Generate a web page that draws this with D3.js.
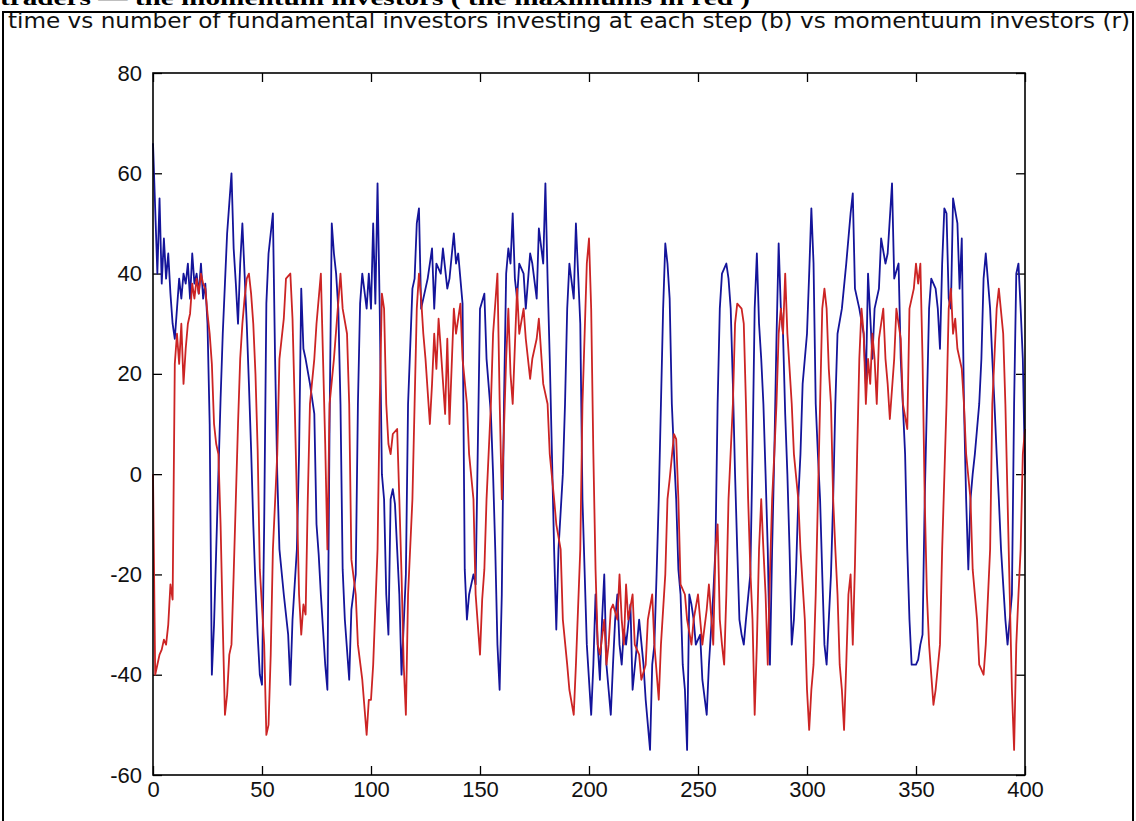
<!DOCTYPE html>
<html>
<head>
<meta charset="utf-8">
<script src="https://cdn.jsdelivr.net/npm/d3@7"></script>
<style>
  body { margin: 0; background: #fff; }
  svg { display: block; }
  .tick text { font-family: "Liberation Sans Narrow", "Liberation Sans", Arial, sans-serif; font-size: 22px; fill: #111; }
</style>
</head>
<body>
<svg id="chart" width="1136" height="821"></svg>
<script>
// Axis ticks
const timeTicks = [0, 50, 100, 150, 200, 250, 300, 350, 400];
const countTicks = [-60, -40, -20, 0, 20, 40, 60, 80];

// Fundamental investors investing at each step (blue): [step, count]
const fundamental = [
  [0,66],[1,53],[2,40],[3,55],[4,38],[5,47],[6,39],[7,44],[8,36],[9,30],
  [10,27],[11,33],[12,39],[13,35],[14,40],[15,38],[16,42],[17,35],[18,44],[19,38],
  [20,40],[21,36],[22,42],[23,35],[24,38],[25,30],[26,10],[27,-40],[28,-30],[29,-15],
  [30,0],[31,15],[32,28],[33,38],[34,48],[35,54],[36,60],[37,45],[38,38],[39,30],
  [40,42],[41,50],[42,40],[43,30],[44,18],[45,5],[46,-10],[47,-22],[48,-32],[49,-40],
  [50,-42],[51,-10],[52,34],[53,44],[55,52],[56,23],[57,0],[58,-15],[60,-24],[62,-32],
  [63,-42],[64,-29],[66,-15],[67,4],[68,37],[69,25],[70,23],[72,18],[74,12],[75,-10],
  [76,-16],[77,-24],[79,-38],[80,-43],[81,10],[82,50],[83,44],[84,40],[85,33],[86,14],
  [87,-19],[88,-29],[90,-41],[91,-27],[93,-20],[94,14],[95,34],[96,40],[98,33],[99,40],
  [100,33],[101,50],[102,34],[103,58],[104,33],[105,0],[106,-5],[107,-24],[108,-32],[109,-5],
  [110,-3],[111,-6],[112,-15],[113,-24],[114,-40],[116,-20],[117,14],[119,37],[120,39],[121,50],
  [122,53],[123,33],[125,37],[126,39],[128,45],[129,33],[130,42],[132,40],[133,45],[135,37],
  [136,39],[138,48],[139,42],[140,44],[142,34],[143,-19],[144,-29],[145,-24],[147,-20],[148,-22],
  [150,33],[152,36],[153,23],[155,12],[156,0],[157,-15],[158,-34],[159,-43],[160,-24],[161,14],
  [162,40],[163,45],[164,42],[165,52],[166,39],[167,35],[168,42],[170,40],[171,33],[173,44],
  [174,42],[176,35],[177,49],[179,42],[180,58],[181,39],[182,23],[183,4],[184,-15],[185,-31],
  [186,-15],[188,0],[189,14],[190,33],[191,42],[193,35],[194,50],[196,30],[197,-5],[199,-34],
  [201,-48],[202,-38],[203,-24],[204,-34],[205,-41],[206,-29],[207,-20],[208,-38],[209,-43],[210,-48],
  [211,-38],[212,-29],[213,-24],[214,-34],[215,-38],[216,-31],[217,-34],[219,-26],[220,-43],[222,-34],
  [223,-29],[225,-38],[226,-45],[228,-55],[229,-38],[230,-34],[231,-20],[232,-5],[233,14],[234,33],
  [235,46],[236,42],[237,35],[238,14],[239,4],[240,-5],[241,-19],[242,-24],[243,-38],[244,-43],
  [245,-55],[246,-24],[247,-26],[248,-29],[249,-34],[251,-32],[252,-41],[254,-48],[255,-38],[257,-24],
  [258,-15],[259,14],[260,33],[261,40],[263,42],[264,39],[265,33],[266,18],[267,0],[268,-15],
  [269,-29],[270,-32],[271,-34],[272,-29],[274,-20],[275,4],[276,33],[277,44],[278,30],[279,23],
  [280,14],[281,0],[282,-15],[283,-38],[284,-15],[285,4],[286,27],[287,46],[288,33],[289,28],
  [290,12],[291,0],[292,-15],[293,-34],[294,-29],[295,-19],[296,-5],[297,4],[298,18],[299,23],
  [300,28],[301,40],[302,53],[303,42],[304,14],[305,4],[306,-5],[307,-20],[308,-34],[309,-38],
  [310,-29],[311,-20],[312,-5],[313,14],[314,28],[316,33],[318,42],[320,52],[321,56],[322,37],
  [324,33],[326,28],[327,18],[328,40],[330,23],[331,33],[333,37],[334,47],[336,42],[337,44],
  [339,58],[340,39],[342,42],[343,23],[345,4],[346,-15],[347,-29],[348,-38],[350,-38],[351,-37],
  [352,-34],[353,-32],[354,-5],[355,14],[356,33],[357,39],[359,37],[360,33],[361,25],[362,42],
  [363,53],[364,52],[365,35],[366,33],[367,55],[369,50],[370,37],[371,47],[372,14],[373,-5],
  [374,-19],[375,-5],[376,0],[377,4],[378,9],[379,14],[380,23],[381,39],[382,44],[384,33],
  [385,23],[386,14],[387,4],[388,-5],[389,-15],[391,-29],[392,-34],[393,-29],[394,-24],[395,14],
  [396,40],[397,42],[398,33],[399,23],[400,0]
];

// Momentum investors (red): [step, count]
const momentum = [
  [0,0],[1,-40],[2,-38],[3,-36],[4,-35],[5,-33],[6,-34],[7,-30],[8,-22],[9,-25],
  [10,22],[11,28],[12,22],[13,30],[14,18],[15,25],[16,30],[17,32],[18,38],[19,35],
  [20,39],[21,36],[22,40],[23,38],[24,37],[25,32],[26,28],[27,22],[28,10],[29,6],
  [30,4],[31,-10],[32,-30],[33,-48],[34,-44],[35,-36],[36,-34],[37,-20],[38,-5],[39,10],
  [40,23],[41,30],[42,35],[43,39],[44,40],[45,36],[46,30],[47,20],[48,5],[49,-19],
  [51,-34],[52,-52],[53,-50],[54,-36],[55,-15],[57,4],[58,23],[60,31],[61,39],[63,40],
  [64,31],[65,14],[66,-5],[67,-24],[68,-32],[69,-26],[70,-28],[71,-5],[72,14],[74,23],
  [75,30],[77,40],[78,23],[79,6],[80,-15],[81,14],[83,23],[86,40],[87,33],[89,28],
  [90,14],[91,-17],[93,-24],[94,-34],[96,-41],[98,-52],[99,-45],[100,-45],[101,-38],[103,-15],
  [104,14],[105,36],[106,33],[107,14],[108,6],[109,4],[110,8],[112,9],[113,-5],[114,-20],
  [115,-38],[116,-48],[117,-24],[119,-5],[120,14],[121,33],[122,40],[123,35],[124,28],[125,23],
  [127,10],[128,18],[129,28],[130,21],[131,31],[132,25],[134,12],[135,27],[136,10],[138,33],
  [139,28],[141,34],[142,23],[144,14],[145,4],[147,-5],[148,-24],[150,-36],[151,-25],[152,-19],
  [153,-5],[155,14],[156,28],[158,40],[159,15],[160,-5],[161,9],[162,23],[163,33],[164,20],
  [165,14],[167,37],[168,28],[170,33],[171,27],[173,19],[174,23],[176,27],[177,31],[179,18],
  [181,14],[182,4],[184,-5],[185,-10],[187,-15],[188,-29],[190,-38],[191,-43],[193,-48],[194,-38],
  [196,-15],[197,14],[199,42],[200,47],[201,33],[202,4],[203,-19],[204,-34],[205,-36],[207,-29],
  [208,-38],[209,-34],[210,-27],[211,-26],[213,-29],[214,-20],[215,-29],[216,-34],[217,-22],[218,-29],
  [220,-24],[221,-34],[223,-36],[224,-41],[226,-38],[227,-29],[229,-24],[230,-34],[232,-45],[233,-34],
  [235,-20],[236,-5],[237,-1],[239,8],[240,7],[241,-5],[242,-22],[244,-24],[245,-29],[247,-34],
  [248,-29],[250,-24],[251,-29],[252,-34],[254,-27],[255,-22],[257,-34],[258,-15],[259,-10],[260,-29],
  [261,-34],[262,-38],[263,-24],[264,-5],[266,14],[267,30],[268,34],[270,33],[271,30],[272,14],
  [273,-5],[274,-19],[275,-29],[276,-48],[277,-34],[278,-15],[279,-5],[280,-15],[281,-24],[282,-38],
  [283,-20],[284,-5],[285,4],[286,14],[287,28],[288,33],[289,28],[290,40],[291,28],[293,14],
  [294,4],[296,-5],[297,-15],[299,-29],[300,-43],[301,-51],[302,-43],[303,-38],[304,-24],[305,-5],
  [306,14],[307,33],[308,37],[309,33],[310,21],[311,14],[312,-5],[313,-15],[314,-24],[315,-38],
  [316,-43],[317,-51],[318,-38],[319,-24],[320,-20],[321,-34],[322,-18],[323,4],[324,23],[325,33],
  [326,28],[327,14],[328,23],[329,18],[330,28],[331,23],[332,14],[333,27],[335,33],[336,23],
  [337,18],[338,11],[340,23],[341,33],[343,27],[344,14],[346,9],[347,33],[349,37],[350,42],
  [351,38],[352,42],[353,23],[354,-5],[355,-24],[356,-34],[357,-40],[358,-46],[359,-43],[361,-34],
  [362,-15],[364,14],[365,33],[366,37],[367,28],[368,31],[369,25],[371,21],[372,14],[373,4],
  [375,-5],[376,-19],[378,-29],[379,-38],[381,-40],[382,-34],[384,-15],[385,14],[387,33],[388,37],
  [390,28],[391,14],[392,-5],[393,-24],[394,-43],[395,-55],[396,-34],[397,-24],[398,-15],[399,4],
  [400,9]
];

const svg = d3.select("#chart");
const plot = { left: 153, right: 1025, top: 73, bottom: 775 };

const x = d3.scaleLinear().domain([0, 400]).range([plot.left, plot.right]);
const y = d3.scaleLinear().domain([-60, 80]).range([plot.bottom, plot.top]);

// Caption line of the surrounding document, cut by the page edge
svg.append("text")
  .attr("x", 0).attr("y", 5)
  .attr("font-family", "'Liberation Serif', 'Times New Roman', serif")
  .attr("font-weight", "bold")
  .attr("font-size", 22)
  .attr("textLength", 750).attr("lengthAdjust", "spacingAndGlyphs")
  .attr("fill", "#000")
  .text("traders — the momentum investors ( the maximums in red )");

// Figure frame
svg.append("rect")
  .attr("x", 3).attr("y", 12).attr("width", 1130).attr("height", 840)
  .attr("fill", "#fff").attr("stroke", "#000").attr("stroke-width", 2);

// Title
svg.append("text")
  .attr("x", 8).attr("y", 28)
  .attr("font-family", "'Liberation Sans Narrow', 'DejaVu Sans Condensed', 'Liberation Sans', sans-serif")
  .attr("font-size", 21)
  .attr("textLength", 1122).attr("lengthAdjust", "spacingAndGlyphs")
  .attr("fill", "#111")
  .text("time vs number of fundamental investors investing at each step (b)  vs momentuum investors (r)");

// Axes with inward ticks on all four sides; labels use a plain hyphen minus
const tickLen = 9;
const plain = d => String(d);
svg.append("g")
  .attr("transform", `translate(0,${plot.bottom})`)
  .call(d3.axisBottom(x).tickValues(timeTicks).tickFormat(plain)
    .tickSizeInner(-tickLen).tickSizeOuter(0).tickPadding(6));
svg.append("g")
  .attr("transform", `translate(${plot.left},0)`)
  .call(d3.axisLeft(y).tickValues(countTicks).tickFormat(plain)
    .tickSizeInner(-tickLen).tickSizeOuter(0).tickPadding(11));
svg.append("g")
  .attr("transform", `translate(0,${plot.top})`)
  .call(d3.axisTop(x).tickValues(timeTicks).tickSizeInner(-tickLen).tickSizeOuter(0).tickFormat(""));
svg.append("g")
  .attr("transform", `translate(${plot.right},0)`)
  .call(d3.axisRight(y).tickValues(countTicks).tickSizeInner(-tickLen).tickSizeOuter(0).tickFormat(""));

svg.selectAll(".domain").remove();
svg.selectAll(".tick line").attr("stroke", "#000").attr("stroke-width", 1.3);

// Series lines (red drawn last, on top)
const line = d3.line().x(d => x(d[0])).y(d => y(d[1]));
svg.append("path").datum(fundamental)
  .attr("d", line).attr("fill", "none")
  .attr("stroke", "#14149a").attr("stroke-width", 1.8).attr("stroke-linejoin", "round");
svg.append("path").datum(momentum)
  .attr("d", line).attr("fill", "none")
  .attr("stroke", "#cc2424").attr("stroke-width", 1.8).attr("stroke-linejoin", "round");

// Axes box
svg.append("rect")
  .attr("x", plot.left).attr("y", plot.top)
  .attr("width", plot.right - plot.left).attr("height", plot.bottom - plot.top)
  .attr("fill", "none").attr("stroke", "#000").attr("stroke-width", 1.6);
</script>
</body>
</html>
